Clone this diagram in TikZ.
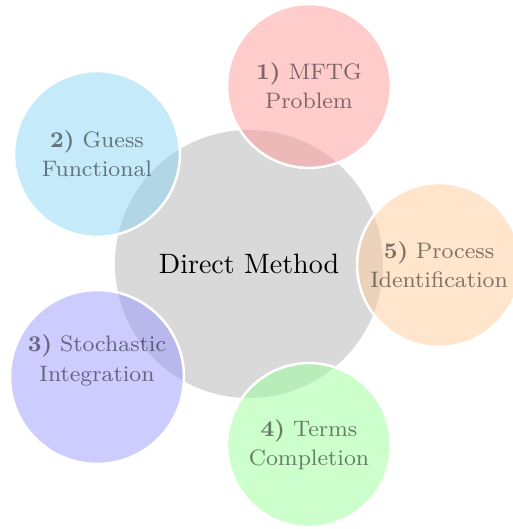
\documentclass[tikz,border=0pt]{standalone}
\usepackage{tikz}
\definecolor{guessblue}{RGB}{139,213,243}

\begin{document}
\begin{tikzpicture}[x=0.357pt, y=-0.357pt,
        planet/.style={circle, fill=gray!30, minimum size=95.7pt, inner sep=0pt},
        satellite/.style={circle, draw=white, line width=0.9pt, fill opacity=0.5, text opacity=0.5, minimum size=58.5pt, inner sep=0pt, align=center, font={\footnotesize\linespread{1.1}\selectfont}}]
        \useasboundingbox (0, 0) rectangle (512, 529);

        \draw (249, 264) node(dm)[planet]{Direct Method};

        \draw (309, 86) node(s1)[satellite, fill=red!40]{\textbf{1)} MFTG\\Problem};
        \draw (97, 154) node(s2)[satellite, fill=guessblue, minimum size=59.2pt]{\textbf{2)} Guess\\Functional};
        \draw (97, 377) node(s3)[satellite, fill=blue!40, minimum size=62.1pt]{\textbf{3)} Stochastic\\Integration\\\strut};
        \draw (309, 445) node(s4)[satellite, fill=green!40]{\textbf{4)} Terms\\Completion};
        \draw (439, 265) node(s5)[satellite, fill=orange!40]{\textbf{5)} Process\\Identification};
    \end{tikzpicture}
\end{document}
